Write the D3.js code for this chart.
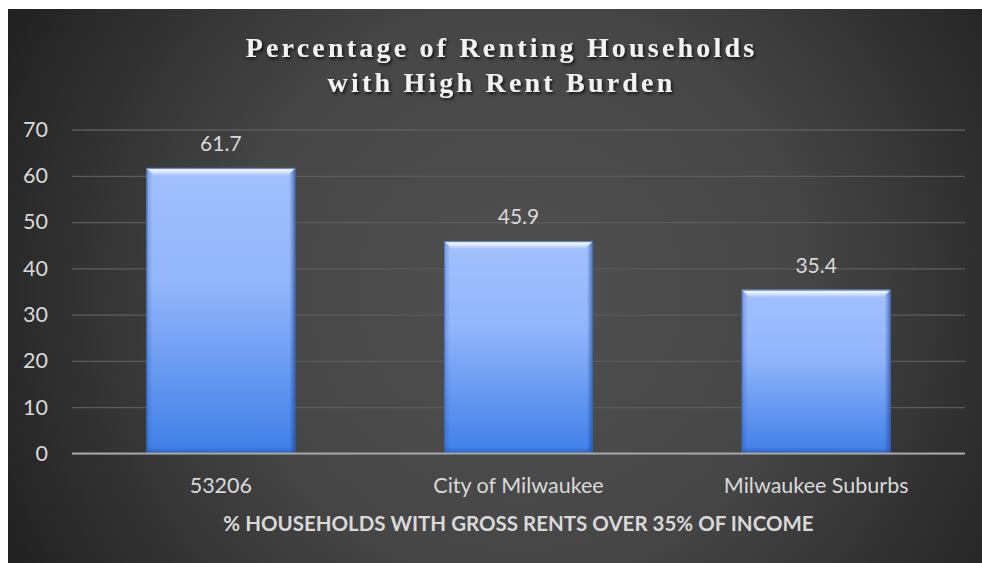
<!DOCTYPE html>
<html>
<head>
<meta charset="utf-8">
<script src="https://cdn.jsdelivr.net/npm/d3@7"></script>
<style>
  html, body { margin: 0; padding: 0; background: #ffffff; }
  svg { display: block; }
</style>
</head>
<body>
<svg id="chart" width="982" height="563"></svg>
<script>
// Share of renting households paying more than 35% of income on gross rent
const categories = ["53206", "City of Milwaukee", "Milwaukee Suburbs"];
const values = [61.7, 45.9, 35.4];
const yTicks = [0, 10, 20, 30, 40, 50, 60, 70];
const titleLines = ["Percentage of Renting Households", "with High Rent Burden"];
const xAxisTitle = "% HOUSEHOLDS WITH GROSS RENTS OVER 35% OF INCOME";

const W = 982, H = 563;
const panel = { x: 8, y: 9, w: W - 8, h: H - 9 };
const plot = { left: 72, right: 965, top: 129.5, bottom: 453.5 };
const labelFont = "Lato, 'Open Sans', sans-serif";
const labelColor = "#d9d9d9";

const svg = d3.select("#chart");
const defs = svg.append("defs");

// Dark panel with a soft radial glow
const bg = defs.append("radialGradient").attr("id", "bgGrad")
  .attr("gradientUnits", "userSpaceOnUse")
  .attr("cx", 520).attr("cy", 290).attr("r", 620);
bg.append("stop").attr("offset", "0%").attr("stop-color", "#505050");
bg.append("stop").attr("offset", "45%").attr("stop-color", "#464646");
bg.append("stop").attr("offset", "100%").attr("stop-color", "#1c1c1c");

// Bar body: light blue at the top fading to a saturated blue
const barGrad = defs.append("linearGradient").attr("id", "barGrad")
  .attr("x1", 0).attr("y1", 0).attr("x2", 0).attr("y2", 1);
barGrad.append("stop").attr("offset", "0%").attr("stop-color", "#a2c0fd");
barGrad.append("stop").attr("offset", "40%").attr("stop-color", "#93b6fb");
barGrad.append("stop").attr("offset", "100%").attr("stop-color", "#3f7fe8");

// Bevel overlays
const topBevel = defs.append("linearGradient").attr("id", "topBevel")
  .attr("x1", 0).attr("y1", 0).attr("x2", 0).attr("y2", 1);
topBevel.append("stop").attr("offset", "0%").attr("stop-color", "#7f9fd8").attr("stop-opacity", 1);
topBevel.append("stop").attr("offset", "25%").attr("stop-color", "#ffffff").attr("stop-opacity", 0.9);
topBevel.append("stop").attr("offset", "100%").attr("stop-color", "#ffffff").attr("stop-opacity", 0);

const leftBevel = defs.append("linearGradient").attr("id", "leftBevel")
  .attr("x1", 0).attr("y1", 0).attr("x2", 1).attr("y2", 0);
leftBevel.append("stop").attr("offset", "0%").attr("stop-color", "#1f4fa8").attr("stop-opacity", 0.35);
leftBevel.append("stop").attr("offset", "100%").attr("stop-color", "#1f4fa8").attr("stop-opacity", 0);

const rightBevel = defs.append("linearGradient").attr("id", "rightBevel")
  .attr("x1", 1).attr("y1", 0).attr("x2", 0).attr("y2", 0);
rightBevel.append("stop").attr("offset", "0%").attr("stop-color", "#163f8f").attr("stop-opacity", 0.6);
rightBevel.append("stop").attr("offset", "100%").attr("stop-color", "#163f8f").attr("stop-opacity", 0);

const bottomBevel = defs.append("linearGradient").attr("id", "bottomBevel")
  .attr("x1", 0).attr("y1", 1).attr("x2", 0).attr("y2", 0);
bottomBevel.append("stop").attr("offset", "0%").attr("stop-color", "#1a4aa6").attr("stop-opacity", 0.6);
bottomBevel.append("stop").attr("offset", "100%").attr("stop-color", "#1a4aa6").attr("stop-opacity", 0);

const shadow = defs.append("filter").attr("id", "titleShadow")
  .attr("x", "-10%").attr("y", "-30%").attr("width", "120%").attr("height", "160%");
shadow.append("feDropShadow").attr("dx", 1.5).attr("dy", 2).attr("stdDeviation", 1.5)
  .attr("flood-color", "#000000").attr("flood-opacity", 0.75);

svg.append("rect")
  .attr("x", panel.x).attr("y", panel.y).attr("width", panel.w).attr("height", panel.h)
  .attr("fill", "url(#bgGrad)");

// Scales
const x = d3.scaleBand().domain(categories)
  .range([plot.left, plot.right]).paddingInner(0.5).paddingOuter(0.25);
const y = d3.scaleLinear().domain([0, 70]).range([plot.bottom, plot.top]);

// Gridlines and value axis labels
const yAxis = d3.axisLeft(y).tickValues(yTicks)
  .tickSize(-(plot.right - plot.left)).tickPadding(24).tickFormat(d3.format("d"));
const gy = svg.append("g").attr("transform", `translate(${plot.left},0)`).call(yAxis);
gy.select(".domain").remove();
gy.selectAll(".tick line").attr("stroke", "#5c5c5c").attr("stroke-width", 1.3);
gy.selectAll(".tick text")
  .attr("fill", labelColor).attr("font-family", labelFont)
  .attr("font-size", 21.5);

// Bars
const bars = svg.append("g").selectAll("g.bar").data(categories).join("g").attr("class", "bar");
bars.each(function (c, i) {
  const g = d3.select(this);
  const bx = x(c), bw = x.bandwidth();
  const by = y(values[i]), bh = y(0) - y(values[i]);
  const b = 6;
  g.append("rect").attr("x", bx).attr("y", by).attr("width", bw).attr("height", bh)
    .attr("fill", "url(#barGrad)");
  g.append("rect").attr("x", bx).attr("y", by).attr("width", b).attr("height", bh)
    .attr("fill", "url(#leftBevel)");
  g.append("rect").attr("x", bx + bw - b).attr("y", by).attr("width", b).attr("height", bh)
    .attr("fill", "url(#rightBevel)");
  g.append("rect").attr("x", bx).attr("y", by + bh - b).attr("width", bw).attr("height", b)
    .attr("fill", "url(#bottomBevel)");
  g.append("path")
    .attr("d", `M${bx},${by} L${bx + bw},${by} L${bx + bw - 8},${by + 8} L${bx + 8},${by + 8} Z`)
    .attr("fill", "url(#topBevel)");
  g.append("rect").attr("x", bx + 0.5).attr("y", by + 0.5).attr("width", bw - 1).attr("height", bh - 1)
    .attr("fill", "none").attr("stroke", "#3a64b0").attr("stroke-opacity", 0.6).attr("stroke-width", 1);
});

// Value labels
svg.append("g").selectAll("text").data(categories).join("text")
  .attr("x", c => x(c) + x.bandwidth() / 2)
  .attr("y", (c, i) => y(values[i]) - 17)
  .attr("text-anchor", "middle")
  .attr("fill", labelColor).attr("font-family", labelFont)
  .attr("font-size", 21)
  .text((c, i) => values[i].toFixed(1));

// Category axis
const xAxis = d3.axisBottom(x).tickSize(0).tickPadding(24);
const gx = svg.append("g").attr("transform", `translate(0,${plot.bottom})`).call(xAxis);
gx.select(".domain").attr("stroke", "#a6a6a6").attr("stroke-width", 2.2)
  .attr("d", `M${plot.left},0H${plot.right}`);
gx.selectAll(".tick text")
  .attr("fill", labelColor).attr("font-family", labelFont)
  .attr("font-size", 21.5);

// Axis title
svg.append("text")
  .attr("x", (plot.left + plot.right) / 2).attr("y", 531)
  .attr("text-anchor", "middle")
  .attr("fill", labelColor).attr("font-family", labelFont)
  .attr("font-weight", "bold").attr("font-size", 20.5)
  .text(xAxisTitle);

// Chart title
const title = svg.append("text")
  .attr("text-anchor", "middle")
  .attr("fill", "#f2f2f2").attr("font-family", "'Liberation Serif', 'Times New Roman', serif")
  .attr("font-weight", "bold").attr("font-size", 28).attr("letter-spacing", 3.2)
  .attr("filter", "url(#titleShadow)");
title.selectAll("tspan").data(titleLines).join("tspan")
  .attr("x", 501.5).attr("y", (d, i) => 57 + i * 35)
  .text(d => d);
</script>
</body>
</html>
